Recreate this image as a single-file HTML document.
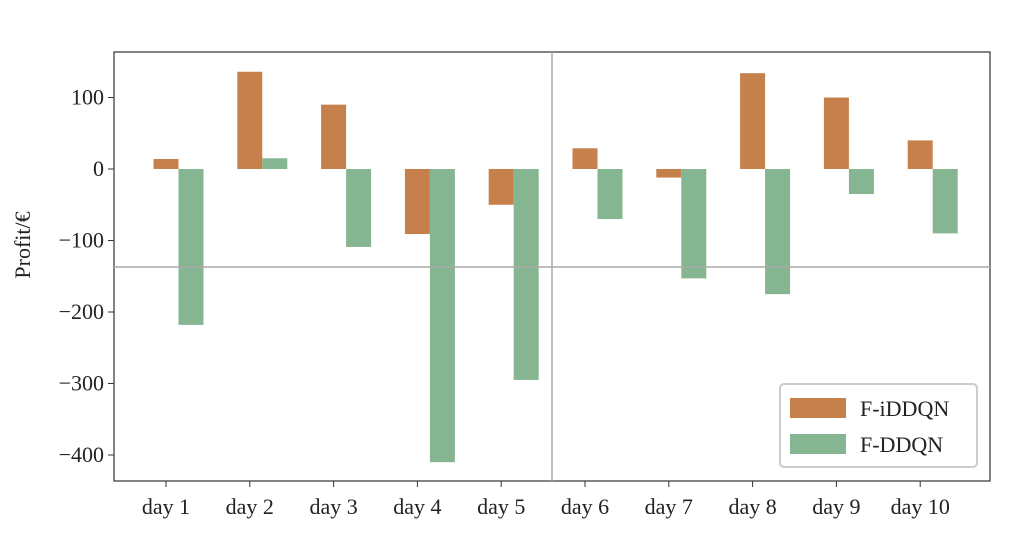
<!DOCTYPE html>
<html><head><meta charset="utf-8"><style>
body{margin:0;background:#fff}
svg text{font-family:"Liberation Serif",serif;fill:#222}
</style></head><body>
<svg id="chart" width="1019" height="532">
<rect x="114" y="52" width="876" height="429" fill="none" stroke="#333" stroke-width="1.2"/>
<g id="yaxis"></g>
<g id="xaxis"></g>
<g id="bars"></g>
<line x1="114" x2="990" y1="267" y2="267" stroke="#aaa" stroke-width="1.5"/>
<line x1="552" x2="552" y1="52" y2="481" stroke="#aaa" stroke-width="1.5"/>
<text x="30" y="245" font-size="22" text-anchor="middle" transform="rotate(-90 30 245)">Profit/€</text>
<g>
<rect x="780" y="384" width="197" height="83" rx="4" fill="#fff" stroke="#ccc" stroke-width="2"/>
<rect x="790" y="398" width="56" height="20" fill="#C5804C"/>
<text x="860" y="416" font-size="22">F-iDDQN</text>
<rect x="790" y="434" width="56" height="20" fill="#86B592"/>
<text x="860" y="452" font-size="22">F-DDQN</text>
</g>
</svg>
<script>
const categories=["day 1","day 2","day 3","day 4","day 5","day 6","day 7","day 8","day 9","day 10"];
const fiddqn=[14,136,90,-91,-50,29,-12,134,100,40];
const fddqn=[-218,15,-109,-410,-295,-70,-153,-175,-35,-90];
const yTicks=[100,0,-100,-200,-300,-400];
const NS="http://www.w3.org/2000/svg";
function y(v){return 169-v*0.715;}
function x(i){return 166+i*83.8;}
function mk(tag,attrs,parent){const e=document.createElementNS(NS,tag);for(const k in attrs)e.setAttribute(k,attrs[k]);parent.appendChild(e);return e;}
const ya=document.getElementById('yaxis'),xa=document.getElementById('xaxis'),bg=document.getElementById('bars');
yTicks.forEach(t=>{
 const l=mk('line',{x1:108,x2:114,y1:y(t),y2:y(t),stroke:'#333'},ya);
 
 
 const tx=mk('text',{x:104,y:y(t)+7,'font-size':22,'text-anchor':'end'},ya);
 tx.textContent=t<0?'\u2212'+(-t):String(t);
 
 
});
categories.forEach((c,i)=>{
 const l=mk('line',{x1:x(i),x2:x(i),y1:481,y2:487,stroke:'#333'},xa);
 
 
 const tx=mk('text',{x:x(i),y:514,'font-size':22,'text-anchor':'middle'},xa);
 tx.textContent=c;
 
 
 const a=fiddqn[i],b=fddqn[i];
 const r1=mk('rect',{x:x(i)-12.5,y:Math.min(y(a),y(0)),width:25,height:Math.abs(y(a)-y(0)),fill:'#C5804C'},bg);
 
 
 const r2=mk('rect',{x:x(i)+12.5,y:Math.min(y(b),y(0)),width:25,height:Math.abs(y(b)-y(0)),fill:'#86B592'},bg);
 
 
});
</script>
</body></html>
